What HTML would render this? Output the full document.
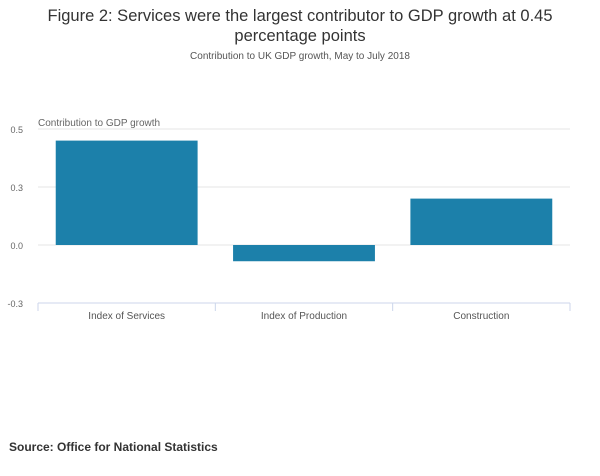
<!DOCTYPE html>
<html><head><meta charset="utf-8"><style>
body{margin:0;background:#fff;width:600px;height:471px;overflow:hidden;font-family:"Liberation Sans",sans-serif}
</style></head><body>
<svg width="600" height="471">
<text x="300" y="21" text-anchor="middle" font-size="16.5" fill="#333">Figure 2: Services were the largest contributor to GDP growth at 0.45</text>
<text x="300" y="41" text-anchor="middle" font-size="16.5" fill="#333">percentage points</text>
<text x="300" y="59" text-anchor="middle" font-size="10" fill="#555">Contribution to UK GDP growth, May to July 2018</text>
<text x="38" y="126" font-size="10" fill="#666">Contribution to GDP growth</text>
<g id="grid"></g><g id="bars"></g><g id="xaxis"></g>
<text x="9" y="451" font-size="12" font-weight="bold" fill="#333">Source: Office for National Statistics</text>
</svg>
<script>
const categories=["Index of Services","Index of Production","Construction"];
const values=[0.45,-0.07,0.2];
const tickValues=[0.5,0.25,0,-0.25];
const tickLabels=["0.5","0.3","0.0","-0.3"];
const NS="http://www.w3.org/2000/svg";
const L=38,R=570,yMin=-0.25,yMax=0.5,yTop=129,yBot=303;
const y=v=>yBot-(v-yMin)/(yMax-yMin)*(yBot-yTop);
const bw=(R-L)/categories.length;
function mk(t,a,p){const e=document.createElementNS(NS,t);for(const k in a)e.setAttribute(k,a[k]);p.appendChild(e);return e;}
const g=document.getElementById('grid'),b=document.getElementById('bars'),xa=document.getElementById('xaxis');
tickValues.forEach((v,i)=>{
 if(v!==yMin){const l=mk('line',{x1:L,x2:R,y1:y(v),y2:y(v),stroke:'#e6e6e6','stroke-width':1},g);
 
 }
 const t=mk('text',{x:23,y:y(v)+4,'text-anchor':'end','font-size':9,fill:'#666'},g);t.textContent=tickLabels[i];
 
 
});
values.forEach((v,i)=>{
 const x0=L+i*bw+bw*0.1,y0=Math.min(y(v),y(0)),h=Math.abs(y(v)-y(0));
 const r=mk('rect',{x:x0,y:y0,width:bw*0.8,height:h,fill:'#1c80aa'},b);
 
 
 const t=mk('text',{x:L+i*bw+bw/2,y:319,'text-anchor':'middle','font-size':10,fill:'#555'},xa);t.textContent=categories[i];
 
 
});
const ax=mk('line',{x1:L,x2:R,y1:yBot,y2:yBot,stroke:'#ccd6eb'},xa);


for(let i=0;i<=categories.length;i++){const tk=mk('line',{x1:L+i*bw,x2:L+i*bw,y1:yBot,y2:yBot+8,stroke:'#ccd6eb'},xa);
 
 }
</script>
</body></html>
